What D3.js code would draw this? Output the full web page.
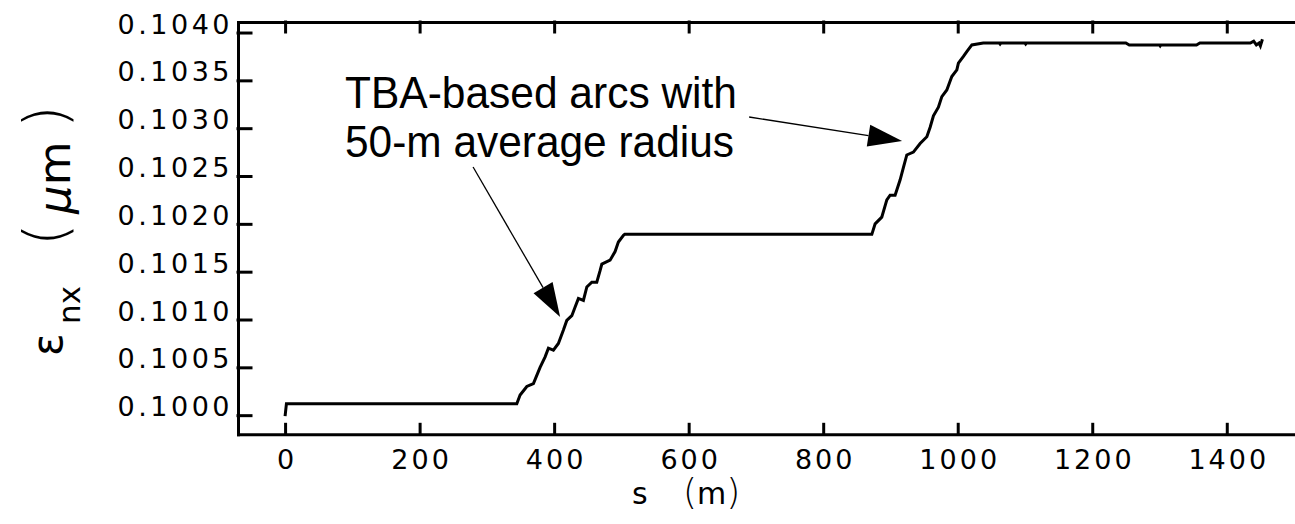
<!DOCTYPE html>
<html lang="en">

<head>
  <meta charset="UTF-8">
  <title>emittance growth</title>
  <script src="https://d3js.org/d3.v7.min.js"></script>
  <style>
    body { margin: 0; background: #fff; }
    text { fill: #000; }
  </style>
</head>

<body>
  <svg width="1295" height="524"></svg>
</body>

<script>
  // position along the line (m)
  const sPos = [
    0, 2, 344.5, 349.4, 359.4, 369.2, 379.1, 386.6, 391.5, 398.9,
    406.3, 413.8, 418.8, 426.3, 431.2, 436.1, 443.5, 448.6, 456, 463.4,
    468.3, 470.9, 483.2, 490.6, 495.5, 503, 505,
    872.3, 877.2, 887.1, 894.6, 899.5, 906.9, 914.4, 919.3, 924.3, 934.1,
    944.1, 954.1, 959, 963.9, 971.3, 976.4, 983.8, 991.2, 998.7, 1001,
    1008.5, 1013.5, 1021, 1038,
    1062, 1063, 1064, 1100, 1101, 1102, 1250, 1255, 1300, 1301, 1302, 1355, 1360,
    1435, 1440, 1444, 1448, 1450, 1453
  ];
  // normalized horizontal emittance (um)
  const emitNx = [
    0.09999, 0.10012, 0.10012, 0.10021, 0.10030, 0.10033, 0.10050, 0.10061, 0.10070, 0.10068,
    0.10075, 0.10089, 0.10099, 0.10104, 0.10113, 0.10122, 0.10120, 0.10134, 0.10139, 0.10139,
    0.10151, 0.10158, 0.10162, 0.10171, 0.10181, 0.10188, 0.10189,
    0.10189, 0.10200, 0.10207, 0.10225, 0.10230, 0.10230, 0.10246, 0.10259, 0.10272, 0.10275,
    0.10284, 0.10291, 0.10301, 0.10313, 0.10322, 0.10333, 0.10340, 0.10354, 0.10361, 0.10368,
    0.10375, 0.10380, 0.10387, 0.10389,
    0.10389, 0.10388, 0.10389, 0.10389, 0.10388, 0.10389, 0.10389, 0.10387, 0.10387, 0.10386, 0.10387, 0.10387, 0.10389,
    0.10389, 0.10391, 0.10387, 0.10389, 0.10386, 0.10393
  ];

  const xTicks = [0, 200, 400, 600, 800, 1000, 1200, 1400];
  const yTicks = [0.1000, 0.1005, 0.1010, 0.1015, 0.1020, 0.1025, 0.1030, 0.1035, 0.1040];

  const noteLines = ["TBA-based arcs with", "50-m average radius"];
  // arrows: [s start, emit start, s tip, emit tip]
  const arrows = [
    [279.5, 0.102594, 408.9, 0.101026],
    [689.9, 0.103117, 917.3, 0.102866]
  ];

  const svg = d3.select("svg");
  const plotFont = "'DejaVu Sans', sans-serif";

  const xScale = d3.scaleLinear().domain([-70, 1505]).range([238, 1297.4]);
  const yScale = d3.scaleLinear().domain([0.0998, 0.10411]).range([434.3, 22]);

  const x0 = xScale.range()[0];
  const yB = yScale.range()[0], yT = yScale.range()[1];

  /**
   * 坐标轴 box
   */
  const axisG = svg.append("g").attr("class", "axes");

  axisG.append("g")
    .attr("transform", "translate(0," + yB + ")")
    .call(d3.axisBottom(xScale).tickValues(xTicks).tickSizeInner(-10).tickSizeOuter(0).tickFormat(""));
  axisG.append("g")
    .attr("transform", "translate(0," + yT + ")")
    .call(d3.axisTop(xScale).tickValues(xTicks).tickSizeInner(-10).tickSizeOuter(0).tickFormat(""));
  axisG.append("g")
    .attr("transform", "translate(" + x0 + ",0)")
    .call(d3.axisLeft(yScale).tickValues(yTicks).tickSizeInner(-13).tickSizeOuter(0).tickFormat(""));

  axisG.selectAll("path.domain, line")
    .attr("stroke", "#000")
    .attr("stroke-width", 3)
    .attr("stroke-linecap", "square");

  // tick labels
  svg.append("g").selectAll("text")
    .data(xTicks)
    .join("text")
    .attr("x", d => xScale(d) + 2)
    .attr("y", 469)
    .attr("text-anchor", "middle")
    .style("font-family", plotFont)
    .style("font-size", "27px")
    .style("letter-spacing", "3px")
    .text(d => d3.format("d")(d));

  svg.append("g").selectAll("text")
    .data(yTicks)
    .join("text")
    .attr("x", 233)
    .attr("y", d => yScale(d) + 1)
    .attr("text-anchor", "end")
    .style("font-family", plotFont)
    .style("font-size", "27px")
    .style("letter-spacing", "3.5px")
    .text(d => d3.format(".4f")(d));

  /**
   * 轴标题
   */
  svg.append("text").attr("x", 632).attr("y", 504)
    .style("font-family", plotFont).style("font-size", "30px").text("s");
  const xt = svg.append("text").attr("x", 683).attr("y", 504)
    .style("font-family", plotFont).style("font-size", "30px");
  xt.append("tspan").style("font-size", "36px").style("font-weight", "300").text("(");
  xt.append("tspan").text("m");
  xt.append("tspan").style("font-size", "36px").style("font-weight", "300").text(")");

  svg.append("text")
    .attr("transform", "translate(62,356) rotate(-90)")
    .style("font-family", plotFont).style("font-size", "42px")
    .text("ε");
  svg.append("text")
    .attr("transform", "translate(80,324) rotate(-90)")
    .style("font-family", plotFont).style("font-size", "31px")
    .text("nx");
  svg.append("text")
    .attr("transform", "translate(66,246) rotate(-90)")
    .style("font-family", plotFont).style("font-size", "58px").style("font-weight", "300")
    .text("(");
  const mu = svg.append("text")
    .attr("transform", "translate(70,214) rotate(-90)")
    .style("font-family", plotFont).style("font-size", "45px");
  mu.append("tspan").style("font-style", "italic").text("μ");
  mu.append("tspan").text("m");
  svg.append("text")
    .attr("transform", "translate(66,128) rotate(-90)")
    .style("font-family", plotFont).style("font-size", "58px").style("font-weight", "300")
    .text(")");

  /**
   * 曲线
   */
  const pts = sPos.map((s, i) => [s, emitNx[i]]);
  const line = d3.line()
    .x(d => xScale(d[0]))
    .y(d => yScale(d[1]));

  svg.append("path")
    .datum(pts)
    .attr("fill", "none")
    .attr("stroke", "#000")
    .attr("stroke-width", 3)
    .attr("stroke-linejoin", "miter")
    .attr("d", line);

  /**
   * 注释
   */
  const note = svg.append("text")
    .style("font-family", "'Liberation Sans', Arial, sans-serif")
    .style("font-size", "45px");
  noteLines.forEach((t, i) => {
    note.append("tspan")
      .attr("x", 345)
      .attr("y", 108 + i * 48.5)
      .attr("textLength", i === 0 ? 392 : 389)
      .attr("lengthAdjust", "spacingAndGlyphs")
      .text(t);
  });

  const headLen = 34, headHalf = 11;
  arrows.forEach(a => {
    const sx = xScale(a[0]), sy = yScale(a[1]);
    const tx = xScale(a[2]), ty = yScale(a[3]);
    const len = Math.hypot(tx - sx, ty - sy);
    const ux = (tx - sx) / len, uy = (ty - sy) / len;
    const bx = tx - ux * headLen, by = ty - uy * headLen;
    svg.append("line")
      .attr("x1", sx).attr("y1", sy)
      .attr("x2", bx).attr("y2", by)
      .attr("stroke", "#000")
      .attr("stroke-width", 1.3);
    svg.append("polygon")
      .attr("points", [
        [tx, ty],
        [bx - uy * headHalf, by + ux * headHalf],
        [bx + uy * headHalf, by - ux * headHalf]
      ].map(p => p.join(",")).join(" "))
      .attr("fill", "#000");
  });
</script>

</html>
